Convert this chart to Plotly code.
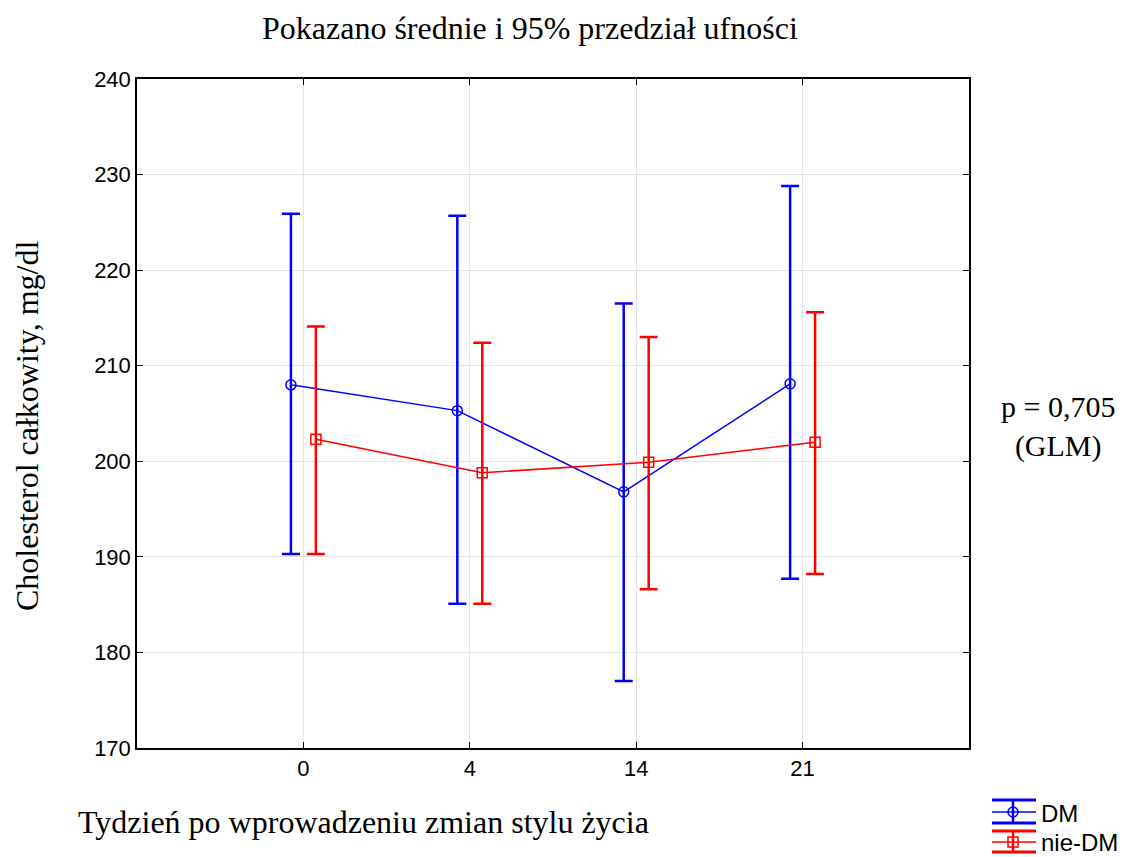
import plotly.graph_objects as go

# Weeks after lifestyle change
weeks = ["0", "4", "14", "21"]

# Total cholesterol, mg/dl: means with 95% CI bounds
dm_mean = [208.0, 205.3, 196.8, 208.1]
dm_upper = [225.9, 225.7, 216.5, 228.8]
dm_lower = [190.3, 185.1, 177.0, 187.7]

nondm_mean = [202.3, 198.8, 199.9, 202.0]
nondm_upper = [214.1, 212.4, 213.0, 215.6]
nondm_lower = [190.3, 185.1, 186.6, 188.2]

idx = list(range(len(weeks)))
shift = 0.075

BLUE = "#0000ff"
RED = "#ff0000"

def series(name, mean, upper, lower, color, symbol, dx):
    return go.Scatter(
        x=[i + dx for i in idx],
        y=mean,
        name=name,
        mode="lines+markers",
        showlegend=False,
        line=dict(color=color, width=1.5),
        marker=dict(symbol=symbol, size=10, color=color,
                    line=dict(color=color, width=1.5)),
        error_y=dict(
            type="data", symmetric=False,
            array=[u - m for u, m in zip(upper, mean)],
            arrayminus=[m - l for m, l in zip(mean, lower)],
            color=color, thickness=2.5, width=9,
        ),
    )

fig = go.Figure()
fig.add_trace(series("DM", dm_mean, dm_upper, dm_lower, BLUE, "circle-open", -shift))
fig.add_trace(series("nie-DM", nondm_mean, nondm_upper, nondm_lower, RED, "square-open", shift))

serif = "Liberation Serif, Times New Roman, serif"
sans = "Liberation Sans, Arial, sans-serif"

# page geometry of the plotting area, used to place the hand-built legend
L, R, T, B = 137, 969, 79, 748
def px(p):
    return (p - L) / (R - L)
def py(p):
    return (B - p) / (B - T)

# legend key: error-bar glyph (caps, stem, marker) and label
shapes = []
annotations = []
legend_rows = [
    ("DM", BLUE, "circle", 800, 812, 823, 813),
    ("nie-DM", RED, "square", 831, 842, 852, 843),
]
x0, x1, xc = 992, 1036, 1013
for label, color, kind, ytop, ymid, ybot, ytxt in legend_rows:
    for yy, w in ((ytop, 3), (ybot, 3), (ymid, 1.5)):
        shapes.append(dict(type="line", xref="paper", yref="paper",
                           x0=px(x0), x1=px(x1), y0=py(yy), y1=py(yy),
                           line=dict(color=color, width=w)))
    shapes.append(dict(type="line", xref="paper", yref="paper",
                       x0=px(xc), x1=px(xc), y0=py(ytop), y1=py(ybot),
                       line=dict(color=color, width=2.5)))
    r = 5
    shapes.append(dict(type="circle" if kind == "circle" else "rect",
                       xref="paper", yref="paper",
                       x0=px(xc - r), x1=px(xc + r), y0=py(ymid - r), y1=py(ymid + r),
                       line=dict(color=color, width=1.5), fillcolor="rgba(0,0,0,0)"))
    annotations.append(dict(text=label, xref="paper", yref="paper",
                            x=px(1039), y=py(ytxt), showarrow=False,
                            xanchor="left", yanchor="middle",
                            font=dict(family=sans, size=24, color="black")))

annotations += [
    dict(text="Cholesterol całkowity, mg/dl", xref="paper", yref="paper",
         x=px(27), y=py(426), textangle=-90, showarrow=False,
         xanchor="center", yanchor="middle",
         font=dict(family=serif, size=32, color="black")),
    dict(text="Tydzień po wprowadzeniu zmian stylu życia", xref="paper", yref="paper",
         x=px(76), y=py(822), showarrow=False, xanchor="left", yanchor="middle",
         font=dict(family=serif, size=32, color="black")),
    dict(text="p = 0,705<br>(GLM)", xref="paper", yref="paper",
         x=px(1058), y=py(426), showarrow=False, xanchor="center", yanchor="middle",
         font=dict(family=serif, size=30, color="black")),
    dict(text="Pokazano średnie i 95% przedział ufności", xref="paper", yref="paper",
         x=px(530), y=py(28), showarrow=False, xanchor="center", yanchor="middle",
         font=dict(family=serif, size=32, color="black")),
]

fig.update_layout(
    width=1123, height=857,
    margin=dict(l=L, r=1123 - R, t=T, b=857 - B),
    plot_bgcolor="white", paper_bgcolor="white",
    showlegend=False,
    xaxis=dict(range=[-1, 4], tickmode="array", tickvals=idx, ticktext=weeks,
               showgrid=True, gridcolor="#e4e4e4", gridwidth=1,
               zeroline=False, showline=True, linecolor="black", linewidth=1.5,
               mirror="ticks", ticks="inside", ticklen=6, tickcolor="black",
               tickfont=dict(family=sans, size=22, color="black")),
    yaxis=dict(range=[170, 240], tickmode="array",
               tickvals=[170, 180, 190, 200, 210, 220, 230, 240],
               showgrid=True, gridcolor="#e4e4e4", gridwidth=1,
               zeroline=False, showline=True, linecolor="black", linewidth=1.5,
               mirror="ticks", ticks="inside", ticklen=6, tickcolor="black",
               tickfont=dict(family=sans, size=22, color="black")),
    shapes=shapes,
    annotations=annotations,
)

fig.write_html("out.html")
